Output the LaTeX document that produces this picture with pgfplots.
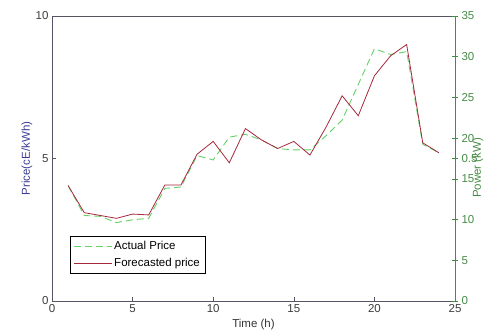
\documentclass[border=0pt]{standalone}
\usepackage{pgfplots}
\pgfplotsset{compat=1.18}
\usepackage{fontspec}
\setmainfont{Liberation Sans}
\definecolor{axgray}{RGB}{85,85,100}
\definecolor{ticktxt}{RGB}{60,60,60}
\definecolor{pricelbl}{RGB}{60,60,150}
\definecolor{powgreen}{RGB}{70,140,70}
\definecolor{actgreen}{RGB}{100,210,100}
\definecolor{fcred}{RGB}{165,40,60}
\pgfplotstableread{
h actual forecast
1 4.05 4.05
2 3.00 3.10
3 2.97 3.00
4 2.75 2.90
5 2.85 3.05
6 2.90 3.02
7 3.95 4.07
8 4.00 4.07
9 5.10 5.15
10 4.95 5.60
11 5.75 4.85
12 5.85 6.05
13 5.65 5.65
14 5.35 5.35
15 5.30 5.60
16 5.30 5.12
17 5.80 6.10
18 6.35 7.20
19 7.60 6.50
20 8.85 7.90
21 8.65 8.60
22 8.75 9.00
23 5.50 5.55
24 5.20 5.20
}\pricedata
\begin{document}
\begin{tikzpicture}
\useasboundingbox (-52pt,-30pt) rectangle (435pt,301pt);
\begin{axis}[
  at={(0pt,0pt)}, anchor=south west,
  scale only axis, width=403pt, height=285pt,
  xmin=0, xmax=25, ymin=0, ymax=10,
  xtick={0,5,10,15,20,25}, ytick={0,5,10},
  xtick pos=bottom, ytick pos=left,
  tick align=inside, major tick length=4pt,
  axis line style={axgray, line width=0.6pt},
  every tick/.style={axgray, line width=0.6pt},
  tick label style={font=\fontsize{11.5}{12}\selectfont, text=ticktxt},
  /pgf/number format/assume math mode=true,
  label style={font=\fontsize{11.5}{12}\selectfont},
  xlabel={Time (h)},
  xlabel style={at={(axis description cs:0.5,-0.081)}, anchor=center, text=black!80},
  ylabel={Price(cE/kWh)},
  ylabel style={at={(axis description cs:-0.062,0.5)}, anchor=center, text=pricelbl},
  legend style={at={(0.045,0.098)}, anchor=south west, draw=black, fill=white,
    font=\fontsize{11.5}{12}\selectfont, inner sep=3pt, row sep=3pt},
  legend cell align=left,
  legend image code/.code={\draw[#1] (0pt,0pt) -- (38pt,0pt);},
]
\addplot[actgreen, line width=0.9pt, dash pattern=on 7pt off 4pt] table[x=h, y=actual] {\pricedata};
\addlegendentry{Actual Price}
\addplot[fcred, line width=0.8pt] table[x=h, y=forecast] {\pricedata};
\addlegendentry{Forecasted price}
\draw[powgreen, line width=0.8pt] (axis cs:5,0) -- (axis cs:25,0);
\end{axis}
\begin{axis}[
  at={(0pt,0pt)}, anchor=south west,
  scale only axis, width=403pt, height=285pt,
  xmin=0, xmax=25, ymin=0, ymax=35,
  axis x line=none, axis y line*=right,
  ytick={0,5,...,35},
  extra y ticks={17.5}, extra y tick labels={0.5},
  tick align=center, major tick length=6pt,
  axis line style={powgreen, line width=0.8pt},
  every tick/.style={powgreen, line width=0.6pt},
  tick label style={font=\fontsize{11.5}{12}\selectfont, text=powgreen},
  /pgf/number format/assume math mode=true,
  ylabel={Power (kW)},
  ylabel style={font=\fontsize{11.5}{12}\selectfont, text=powgreen,
    at={(axis description cs:1.057,0.467)}, anchor=center},
]
\end{axis}
\end{tikzpicture}
\end{document}
